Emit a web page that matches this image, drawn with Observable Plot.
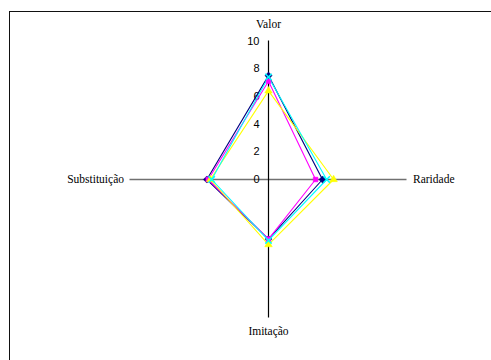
<!DOCTYPE html>
<html><head><meta charset="utf-8">
<script src="https://cdn.jsdelivr.net/npm/d3@7"></script>
<script src="https://cdn.jsdelivr.net/npm/@observablehq/plot@0.6"></script>
<style>
html,body{margin:0;padding:0;background:#fff;overflow:hidden;}
#wrap{position:relative;width:491px;height:360px;}
#frame{position:absolute;left:8.5px;top:10.5px;width:600px;height:500px;border:1.5px solid #111;box-sizing:border-box;}
#chart{position:absolute;left:0;top:0;}
</style></head>
<body><div id="wrap"><div id="frame"></div><div id="chart"></div></div>
<script>
const categories = ["Valor", "Raridade", "Imitação", "Substituição"];
const seriesNames = ["Série1", "Série2", "Série3", "Série4"];
const serie1 = [7.5, 3.9, 4.3, 4.45];
const serie2 = [7.1, 3.4, 4.3, 4.35];
const serie3 = [6.4, 4.7, 4.7, 4.2];
const serie4 = [7.4, 4.2, 4.4, 4.1];
const tickValues = [0, 2, 4, 6, 8, 10];

const seriesValues = [serie1, serie2, serie3, serie4];
const styles = [
  {color: "#000080", symbol: "diamond2", r: 3.2, filled: true},
  {color: "#ff00ff", symbol: "square2", r: 3, filled: true},
  {color: "#ffff00", symbol: "triangle2", r: 3.6, filled: true},
  {color: "#00ffff", symbol: "times", r: 3, filled: false}
];
// direction of each category axis
const dirs = [[0, 1], [1, 0], [0, -1], [-1, 0]];
const rows = [];
seriesNames.forEach((s, i) => {
  seriesValues[i].forEach((v, j) => {
    rows.push({series: s, cat: categories[j], x: dirs[j][0] * v, y: dirs[j][1] * v, order: j});
  });
  const v0 = seriesValues[i][0];
  rows.push({series: s, cat: categories[0], x: 0, y: v0, order: 4});
});

const labelPos = [
  {x: 0, y: 10, dx: 0, dy: -16.5, anchor: "middle"},
  {x: 10, y: 0, dx: 6, dy: 0, anchor: "start"},
  {x: 0, y: -10, dx: 0, dy: 13.5, anchor: "middle"},
  {x: -10, y: 0, dx: -6, dy: 0, anchor: "end"}
];

const marks = [
  Plot.ruleY([0], {x1: -10, x2: 10, stroke: "#707070", strokeWidth: 1.6}),
  Plot.ruleX([0], {y1: -10, y2: 10, stroke: "#000", strokeWidth: 1.2}),
  Plot.text(tickValues, {x: 0, y: d => d, text: d => String(d), dx: -9, textAnchor: "end",
    fontFamily: "Liberation Sans, Arial, sans-serif", fontSize: 11, fill: "#000"}),
  ...categories.map((c, j) => Plot.text([c], {x: labelPos[j].x, y: labelPos[j].y, text: d => d,
    dx: labelPos[j].dx, dy: labelPos[j].dy, textAnchor: labelPos[j].anchor,
    fontFamily: "Liberation Serif, Times New Roman, serif", fontSize: 11.5, fill: "#000"}))
];
seriesNames.forEach((s, i) => {
  const data = rows.filter(r => r.series === s);
  marks.push(Plot.line(data, {x: "x", y: "y", stroke: styles[i].color, strokeWidth: 1.1, curve: "linear"}));
});
seriesNames.forEach((s, i) => {
  const data = rows.filter(r => r.series === s && r.order < 4);
  const st = styles[i];
  marks.push(Plot.dot(data, {x: "x", y: "y", symbol: st.symbol, r: st.r,
    fill: st.filled ? st.color : "none", stroke: st.color, strokeWidth: st.filled ? 0.5 : 1.5}));
});

const chart = Plot.plot({
  width: 491, height: 360, margin: 0,
  style: {background: "transparent", overflow: "visible"},
  x: {domain: [-10, 10], range: [129.5, 406.5], axis: null},
  y: {domain: [-10, 10], range: [317.5, 40.5], axis: null},
  marks
});
document.getElementById("chart").appendChild(chart);
</script></body></html>
